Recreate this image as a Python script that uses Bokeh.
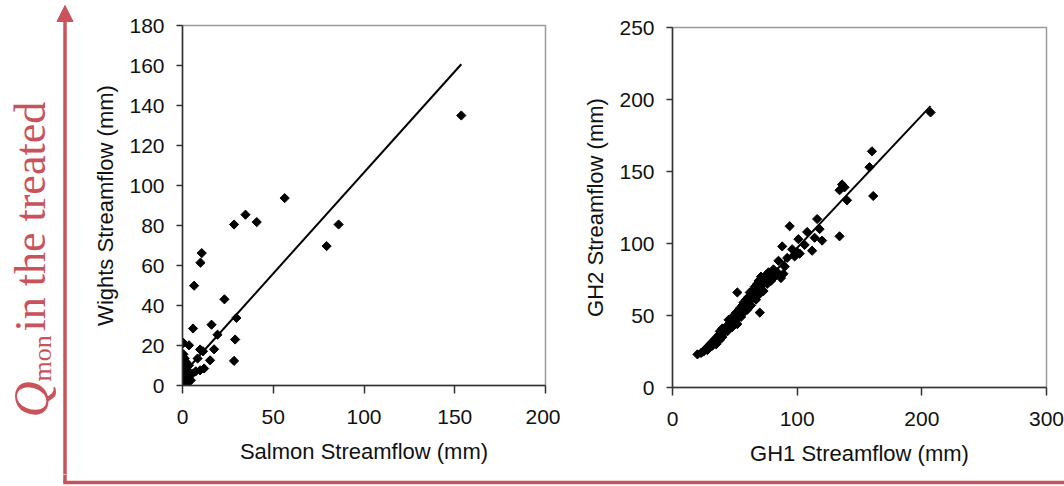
import numpy as np
from bokeh.plotting import figure
from bokeh.layouts import row, column
from bokeh.models import Range1d, Arrow, NormalHead, Label, FixedTicker
from bokeh.embed import file_html
from bokeh.resources import INLINE

# ---------------- data ----------------
# Left panel: Salmon vs Wights monthly streamflow (mm)
salmon = [153.6, 86.0, 79.4, 56.3, 34.7, 28.4, 40.9, 10.6, 9.9, 6.4,
          23.1, 5.8, 16.0, 29.7, 19.3, 29.0, 28.4, 0.5, 3.6, 0.5,
          9.7, 11.3, 17.4, 15.2, 8.3, 1.8, 0.9, 3.6, 11.9, 9.7,
          7.3, 5.5, 2.8, 4.6, 0.9, 0.0, 1.5, 2.0, 0.3, 1.0,
          3.0, 0.5, 1.2, 2.5, 0.2, 1.8, 0.7, 3.3, 0.4, 1.1]
wights = [135.0, 80.5, 69.7, 93.7, 85.4, 80.5, 81.7, 66.2, 61.4, 49.9,
          43.1, 28.5, 30.4, 33.8, 25.4, 23.0, 12.3, 21.3, 20.1, 15.6,
          18.0, 17.1, 18.1, 12.6, 13.5, 11.8, 8.5, 10.1, 8.5, 7.6,
          7.1, 6.0, 5.1, 2.6, 2.6, 0.1, 1.0, 3.0, 4.0, 6.0,
          1.5, 0.5, 13.5, 8.0, 1.8, 0.3, 10.5, 4.2, 2.2, 3.6]
left_slope, left_intercept = 1.01, 5.5

# Right panel: GH1 vs GH2 monthly streamflow (mm)
gh1 = [20, 23, 25, 27, 28, 30, 31, 32, 33, 34, 35, 36, 37, 38, 38, 39, 40, 40,
       41, 42, 43, 44, 45, 45, 46, 47, 48, 48, 49, 50, 50, 51, 52, 52, 53, 54,
       55, 55, 56, 57, 57, 58, 59, 60, 60, 61, 62, 62, 63, 64, 65, 65, 66, 67,
       68, 68, 69, 70, 70, 71, 72, 73, 74, 75, 76, 77, 78, 79, 80, 81, 82, 84,
       85, 87, 88, 89, 90, 92, 94, 96, 98, 100, 101, 102, 106, 108, 112, 114,
       116, 118, 120, 134, 136, 138, 140, 134, 158, 160, 161, 207, 52, 70]
gh2 = [23, 24, 25, 27, 26, 28, 30, 29, 31, 33, 30, 34, 36, 33, 39, 37, 35, 41,
       38, 40, 42, 39, 44, 47, 43, 45, 49, 42, 47, 50, 46, 52, 48, 44, 51, 55,
       49, 53, 57, 52, 59, 55, 61, 54, 58, 63, 60, 66, 57, 62, 68, 64, 70, 61,
       66, 72, 74, 69, 65, 77, 71, 67, 74, 78, 72, 80, 76, 74, 79, 82, 77, 80,
       88, 76, 98, 79, 84, 90, 112, 96, 91, 94, 103, 93, 99, 108, 95, 104,
       117, 110, 102, 137, 141, 139, 130, 105, 153, 164, 133, 191, 66, 52]
right_slope, right_intercept = 0.92, 5.0

left_xticks = [0, 50, 100, 150, 200]
left_yticks = [0, 20, 40, 60, 80, 100, 120, 140, 160, 180]
right_xticks = [0, 100, 200, 300]
right_yticks = [0, 50, 100, 150, 200, 250]

RED = "#C8535A"
FONT = "Liberation Sans"
ROW_H, BOTTOM_H = 474, 12
STRIP_W = 80
RED_X = 64.5
RED_Y_IN_BOTTOM = 4   # red line sits 4 px above the page bottom


def panel(x, y, slope, intercept, xr, yr, xt, yt, xlabel, ylabel,
          width, mbl, mbr, mbt, mbb):
    p = figure(width=width, height=ROW_H, x_range=Range1d(*xr), y_range=Range1d(*yr),
               output_backend="svg", toolbar_location=None,
               min_border_left=mbl, min_border_right=mbr,
               min_border_top=mbt, min_border_bottom=mbb)
    p.frame_align = False
    p.grid.visible = False
    p.outline_line_color = "#9a9a9a"
    p.outline_line_width = 1.5
    for ax, ticks in ((p.xaxis[0], xt), (p.yaxis[0], yt)):
        ax.ticker = FixedTicker(ticks=ticks)
        ax.minor_tick_line_color = None
        ax.major_tick_in = 0
        ax.axis_line_color = "#333333"
        ax.axis_line_width = 1.5
        ax.major_tick_line_color = "#333333"
        ax.major_tick_line_width = 1.5
        ax.major_label_text_font = FONT
        ax.major_label_text_font_size = "21px"
        ax.major_label_text_color = "#111111"
        ax.axis_label_text_font = FONT
        ax.axis_label_text_font_size = "22px"
        ax.axis_label_text_font_style = "normal"
        ax.axis_label_text_color = "#111111"
    p.xaxis.major_tick_out = 8
    p.yaxis.major_tick_out = 6
    p.xaxis.major_label_standoff = 16
    p.yaxis.major_label_standoff = 12
    p.xaxis.axis_label_standoff = 12
    p.yaxis.axis_label_standoff = 8
    p.xaxis.axis_label = xlabel
    p.yaxis.axis_label = ylabel

    xs = np.array([min(x), max(x)], dtype=float)
    p.line(xs, slope * xs + intercept, line_color="black", line_width=2)
    p.scatter(x, y, marker="square", angle=np.pi / 4, size=6.5,
              fill_color="black", line_color="black")
    return p


p1 = panel(salmon, wights, left_slope, left_intercept, (0, 200), (0, 180),
           left_xticks, left_yticks, "Salmon Streamflow (mm)", "Wights Streamflow (mm)",
           480, 102, 15, 25, ROW_H - 385)
p2 = panel(gh1, gh2, right_slope, right_intercept, (0, 300), (0, 250),
           right_xticks, right_yticks, "GH1 Streamflow (mm)", "GH2 Streamflow (mm)",
           504, 112, 18, 27, ROW_H - 387)

# left strip: data units equal page pixels (y measured upward from the strip bottom)
strip = figure(width=STRIP_W, height=ROW_H, x_range=Range1d(0, STRIP_W),
               y_range=Range1d(0, ROW_H), output_backend="svg", toolbar_location=None,
               min_border=0, x_axis_type=None, y_axis_type=None)
strip.frame_align = False
strip.grid.visible = False
strip.outline_line_color = None
strip.add_layout(Arrow(end=NormalHead(size=16, fill_color=RED, line_color=RED, line_width=1),
                       x_start=RED_X, y_start=-2, x_end=RED_X, y_end=ROW_H - 5,
                       line_color=RED, line_width=3.5))
strip.add_layout(Label(x=30, y=ROW_H - 417, text="Q", angle=np.pi / 2,
                       text_font="Liberation Serif", text_font_size="50px",
                       text_font_style="italic", text_color=RED,
                       text_baseline="alphabetic", text_align="left"))
strip.add_layout(Label(x=42, y=ROW_H - 381, text="mon", angle=np.pi / 2,
                       text_font="Liberation Serif", text_font_size="26px", text_color=RED,
                       text_baseline="alphabetic", text_align="left"))
strip.add_layout(Label(x=30, y=ROW_H - 331, text="in the treated", angle=np.pi / 2,
                       text_font="Liberation Serif", text_font_size="44px", text_color=RED,
                       text_baseline="alphabetic", text_align="left"))

# bottom strip: horizontal leg of the red L
bottom = figure(width=1064, height=BOTTOM_H, x_range=Range1d(0, 1064),
                y_range=Range1d(0, BOTTOM_H), output_backend="svg", toolbar_location=None,
                min_border=0, x_axis_type=None, y_axis_type=None)
bottom.frame_align = False
bottom.grid.visible = False
bottom.outline_line_color = None
bottom.add_layout(Arrow(end=None, x_start=RED_X, y_start=BOTTOM_H + 2,
                        x_end=RED_X, y_end=RED_Y_IN_BOTTOM,
                        line_color=RED, line_width=3.5))
bottom.add_layout(Arrow(end=None, x_start=RED_X - 1.75, y_start=RED_Y_IN_BOTTOM,
                        x_end=1066, y_end=RED_Y_IN_BOTTOM,
                        line_color=RED, line_width=3.5))

layout = column(row(strip, p1, p2), bottom)
open("out.html", "w").write(file_html(layout, INLINE))
